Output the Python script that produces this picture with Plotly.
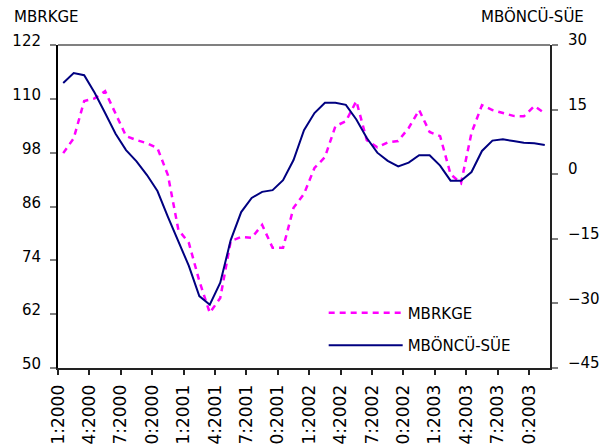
import plotly.graph_objects as go

NAVY = "#000080"
MAGENTA = "#FF00FF"
GRAY = "#808080"
FONT = "DejaVu Sans"

# bulanan 01:2000 .. 11:2003
PERIODS = [f"{m:02d}:{y}" for y in range(2000, 2004) for m in range(1, 13)][:47]
TICK_TEXT = ["01:2000", "04:2000", "07:2000", "10:2000",
             "01:2001", "04:2001", "07:2001", "10:2001",
             "01:2002", "04:2002", "07:2002", "10:2002",
             "01:2003", "04:2003", "07:2003", "10:2003"]

MBRKGE = [97.9, 101.2, 109.5, 110.1, 111.7, 106.6, 101.7, 100.8, 100.1, 99.0,
          93.0, 80.8, 77.9, 69.4, 62.3, 65.6, 78.3, 79.2, 79.0, 81.9,
          76.8, 76.8, 85.7, 88.8, 94.6, 97.0, 103.9, 105.0, 109.5, 100.8,
          99.2, 100.3, 100.6, 103.5, 107.5, 102.6, 101.7, 93.2, 91.2, 102.4,
          108.6, 107.5, 106.8, 106.2, 106.1, 108.4, 106.8]

MBONCU_SUE = [21.2, 23.5, 23.0, 18.9, 14.2, 9.4, 5.6, 3.0, -0.2, -3.9,
              -9.9, -15.5, -21.3, -28.3, -30.3, -25.2, -15.3, -8.8, -5.5, -4.1,
              -3.7, -1.4, 3.3, 10.2, 14.2, 16.6, 16.6, 16.1, 12.7, 8.4,
              5.0, 3.1, 1.8, 2.7, 4.4, 4.4, 2.0, -1.5, -1.5, 0.5,
              5.4, 7.8, 8.1, 7.7, 7.3, 7.2, 6.8]

x = list(range(len(PERIODS)))
tick_pos = [PERIODS.index(t) - 0.5 for t in TICK_TEXT]

fig = go.Figure()
fig.add_trace(go.Scatter(
    x=x, y=MBRKGE, mode="lines", name="MBRKGE",
    line=dict(color=MAGENTA, width=2.5, dash="6px,5px"),
    legendgroup="a", yaxis="y"
))
fig.add_trace(go.Scatter(
    x=x, y=MBONCU_SUE, mode="lines", name="MBÖNCÜ-SÜE",
    line=dict(color=NAVY, width=2),
    legendgroup="b", yaxis="y2"
))

# garis atas abu-abu
fig.add_shape(type="line", xref="paper", yref="paper",
              x0=0, x1=1, y0=1, y1=1, line=dict(color=GRAY, width=2))

fig.add_annotation(text="MBRKGE", xref="paper", yref="paper",
                   x=-0.0935, y=1.088, xanchor="left", yanchor="middle",
                   showarrow=False, font=dict(size=15, color="black"))
fig.add_annotation(text="MBÖNCÜ-SÜE", xref="paper", yref="paper",
                   x=1.073, y=1.088, xanchor="right", yanchor="middle",
                   showarrow=False, font=dict(size=15, color="black"))

fig.update_layout(
    width=600, height=445,
    margin=dict(l=58, r=50, t=45, b=77),
    paper_bgcolor="white", plot_bgcolor="white",
    font=dict(family=FONT, size=15, color="black"),
    xaxis=dict(
        range=[-0.5, len(PERIODS) - 0.5], automargin=False,
        tickmode="array", tickvals=tick_pos, ticktext=TICK_TEXT,
        tickangle=-90, ticks="outside", ticklen=5, tickwidth=1.5,
        tickcolor="#222", showline=True, linecolor="#222", linewidth=2,
        tickfont=dict(size=17), ticklabelstandoff=3,
        showgrid=False, zeroline=False
    ),
    yaxis=dict(
        range=[50, 122], tick0=50, dtick=12, automargin=False,
        ticks="outside", ticklen=6, tickwidth=2, tickcolor=GRAY,
        ticklabelshift=-4, ticklabelstandoff=6,
        showline=True, linecolor="black", linewidth=2,
        showgrid=False, zeroline=False
    ),
    yaxis2=dict(
        range=[-45, 30], tick0=-45, dtick=15, overlaying="y", side="right",
        automargin=False,
        ticks="outside", ticklen=6, tickwidth=2, tickcolor=GRAY,
        ticklabelshift=-5, ticklabelstandoff=7,
        showline=True, linecolor="#222", linewidth=2,
        showgrid=False, zeroline=False
    ),
    showlegend=True,
    legend=dict(
        x=0.54, y=0.221, xanchor="left", yanchor="top",
        bgcolor="rgba(0,0,0,0)", traceorder="grouped",
        tracegroupgap=10, itemwidth=74, font=dict(size=15)
    )
)

# hapus margin bawaan body supaya figur pas di jendela 600x445
fig.write_html("out.html", config={"displayModeBar": False},
               post_script="document.body.style.margin='0';")
